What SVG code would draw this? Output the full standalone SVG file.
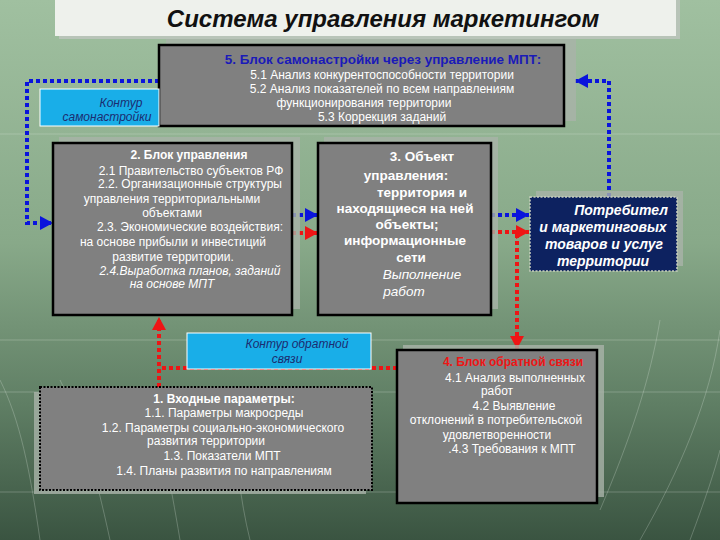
<svg xmlns="http://www.w3.org/2000/svg" width="720" height="540" viewBox="0 0 720 540">
<defs>
<linearGradient id="bg" x1="0" y1="0" x2="0" y2="1">
<stop offset="0" stop-color="#a0c0a0"/>
<stop offset="0.45" stop-color="#88a989"/>
<stop offset="0.75" stop-color="#5f7e64"/>
<stop offset="1" stop-color="#3a5441"/>
</linearGradient>
<marker id="ab" markerUnits="userSpaceOnUse" markerWidth="14" markerHeight="14" refX="13" refY="7" orient="auto">
<path d="M0,0 L13,7 L0,14 z" fill="#0a14dc"/>
</marker>
<marker id="ar" markerUnits="userSpaceOnUse" markerWidth="14" markerHeight="14" refX="13" refY="7" orient="auto">
<path d="M0,0 L13,7 L0,14 z" fill="#ee1515"/>
</marker>
<style>
.box{fill:#808080;stroke:#000;stroke-width:2.5}
.shd{fill:#a9b3a9;opacity:0.8}
.t{font-family:"Liberation Sans",Arial,sans-serif;font-size:12px;fill:#fff;text-anchor:middle}
.b{font-weight:bold}
.i{font-style:italic}
.big{font-size:13.5px;font-weight:bold}
.lbl{fill:#19aee8;stroke:#fff;stroke-width:1}
.lt{font-family:"Liberation Sans",Arial,sans-serif;font-size:12px;fill:#1c2c70;font-style:italic;text-anchor:middle}
.blue{fill:none;stroke:#0a14dc;stroke-width:4;stroke-dasharray:4 3}
.red{fill:none;stroke:#ee1515;stroke-width:4;stroke-dasharray:4 3}
</style>
</defs>
<rect width="720" height="540" fill="url(#bg)"/>
<g stroke="#e8efe6" stroke-opacity="0.25" stroke-width="1" fill="none">
<path d="M0,134 H720"/><path d="M0,340 H720"/><path d="M0,392 H720"/><path d="M0,492 H720"/>
<path d="M40,540 C30,470 20,420 0,380"/><path d="M110,540 C95,470 80,420 60,380"/>
<path d="M180,540 C170,480 160,430 150,390"/><path d="M250,540 C240,500 235,450 230,400"/>
<path d="M640,540 C680,470 710,400 720,330"/><path d="M690,540 C705,500 715,470 720,450"/>
<path d="M600,510 C630,440 650,380 660,320"/>
</g>
<g id="title">
<rect x="59" y="0" width="621" height="39" fill="#b8c4b8"/>
<rect x="55" y="0" width="621" height="36" fill="#eef1ec"/>
<text x="383" y="27" font-family="Liberation Sans,Arial,sans-serif" font-size="24" font-weight="bold" font-style="italic" fill="#111" text-anchor="middle">Система управления  маркетингом</text>
</g>
<g id="connectors">
<path class="blue" d="M159,81 H27 V223 H53" marker-end="url(#ab)"/>
<path class="blue" d="M609,197 V81 H575" marker-end="url(#ab)"/>
<path class="blue" d="M292,215 H318" marker-end="url(#ab)"/>
<path class="red" d="M292,233 H318" marker-end="url(#ar)"/>
<path class="blue" d="M491,215 H529" marker-end="url(#ab)"/>
<path class="red" d="M491,232 H529" marker-end="url(#ar)"/>
<path class="red" d="M517,234 V349" marker-end="url(#ar)"/>
<path class="red" d="M397,368 H159"/>
<path class="red" d="M159,387 V317" marker-end="url(#ar)"/>
</g>
<g id="block5">
<rect class="shd" x="166" y="39" width="410" height="82"/>
<rect class="box" x="159" y="45" width="405" height="81"/>
<text class="t b" x="383" y="64" style="fill:#1a1ab8;font-size:13.5px">5. Блок самонастройки через управление МПТ:</text>
<text class="t" x="382" y="79">5.1 Анализ конкурентоспособности территории</text>
<text class="t" x="382" y="93">5.2 Анализ показателей по всем  направлениям</text>
<text class="t" x="364" y="107">функционирования территории</text>
<text class="t" x="382" y="121">5.3  Коррекция заданий</text>
</g>
<g id="contour-self">
<rect class="lbl" x="40" y="89" width="119" height="37"/>
<text class="lt" x="121" y="107">Контур</text>
<text class="lt" x="107" y="121">самонастройки</text>
</g>
<g id="block2">
<rect class="shd" x="59" y="137" width="241" height="172"/>
<rect class="box" x="53" y="143" width="239" height="172"/>
<text class="t b" x="189" y="159">2. Блок управления</text>
<text class="t" x="191" y="175">2.1 Правительство субъектов  РФ</text>
<text class="t" x="190" y="188">2.2. Организационные структуры</text>
<text class="t" x="172" y="203">управления территориальными</text>
<text class="t" x="172" y="217">объектами</text>
<text class="t" x="190" y="231">2.3. Экономические воздействия:</text>
<text class="t" x="173" y="246">на основе  прибыли и инвестиций</text>
<text class="t" x="173" y="261">развитие территории.</text>
<text class="t i" x="190" y="275">2.4.Выработка планов, заданий</text>
<text class="t i" x="172" y="288">на основе МПТ</text>
</g>
<g id="block3">
<rect class="shd" x="324" y="137" width="174" height="172"/>
<rect class="box" x="318" y="143" width="173" height="172"/>
<text class="t big" x="422" y="161">3. Объект</text>
<text class="t big" x="406" y="180">управления:</text>
<text class="t big" x="422" y="197">территория  и</text>
<text class="t big" x="405" y="213">находящиеся на ней</text>
<text class="t big" x="407" y="229">объекты;</text>
<text class="t big" x="405" y="245">информационные</text>
<text class="t big" x="411" y="262">сети</text>
<text class="t i" x="422" y="279" style="font-size:13.5px">Выполнение</text>
<text class="t i" x="404" y="296" style="font-size:13.5px">работ</text>
</g>
<g id="consumer">
<rect class="shd" x="536" y="191" width="147" height="75"/>
<rect x="530" y="197" width="147" height="74" fill="#0d2260" stroke="#c9d0c0" stroke-width="1.5" stroke-dasharray="2 1.5"/>
<text class="t big i" x="621" y="215" style="font-size:14px">Потребител</text>
<text class="t big i" x="603" y="232" style="font-size:14px">и маркетинговых</text>
<text class="t big i" x="604" y="249" style="font-size:14px">товаров и услуг</text>
<text class="t big i" x="603" y="266" style="font-size:14px">территории</text>
</g>
<g id="contour-feedback">
<rect class="lbl" x="187" y="333" width="184" height="36"/>
<text class="lt" x="297" y="348">Контур обратной</text>
<text class="lt" x="287" y="363">связи</text>
</g>
<g id="block4">
<rect class="shd" x="403" y="345" width="201" height="152"/>
<rect class="box" x="397" y="350" width="200" height="153"/>
<text class="t b" x="513" y="366" style="fill:#ee1515">4. Блок обратной связи</text>
<text class="t" x="515" y="382">4.1 Анализ выполненных</text>
<text class="t" x="497" y="395">работ</text>
<text class="t" x="514" y="410">4.2  Выявление</text>
<text class="t" x="496" y="424">отклонений в потребительской</text>
<text class="t" x="497" y="439">удовлетворенности</text>
<text class="t" x="512" y="453">.4.3 Требования к МПТ</text>
</g>
<g id="block1">
<rect class="shd" x="34" y="392" width="332" height="102"/>
<rect x="40" y="387" width="332" height="103" fill="#808080" stroke="#000" stroke-width="2" stroke-dasharray="2 1.5"/>
<text class="t b" x="224" y="403">1. Входные параметры:</text>
<text class="t" x="224" y="417">1.1. Параметры макросреды</text>
<text class="t" x="223" y="432">1.2. Параметры социально-экономического</text>
<text class="t" x="206" y="445">развития территории</text>
<text class="t" x="222" y="460">1.3. Показатели МПТ</text>
<text class="t" x="224" y="475">1.4. Планы развития по направлениям</text>
</g>
</svg>
